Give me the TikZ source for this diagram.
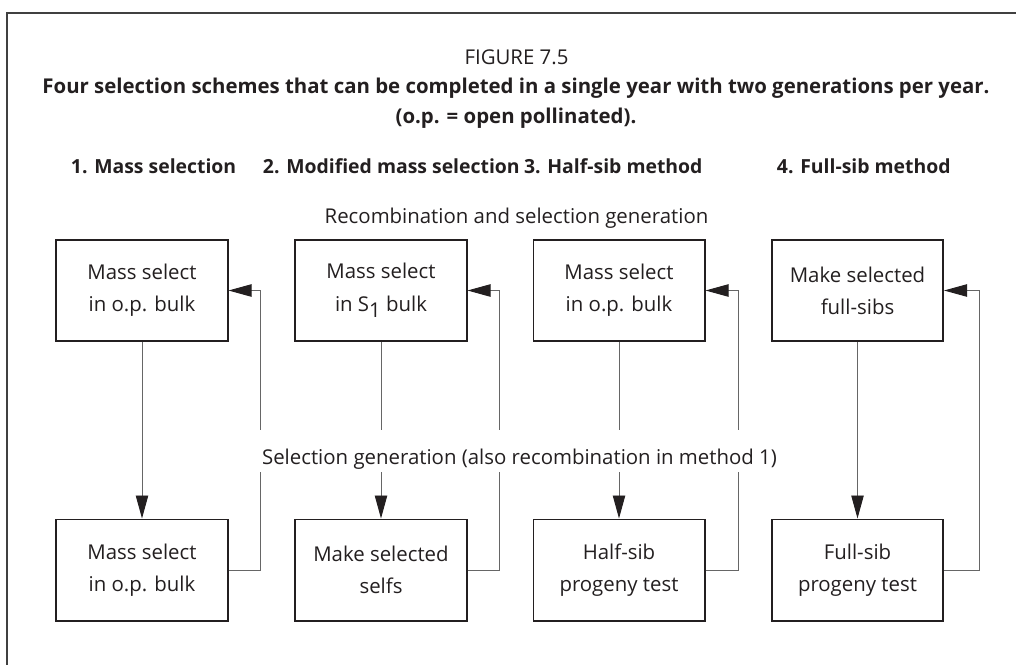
\documentclass[tikz,border=0pt]{standalone}
\usepackage{fontspec}
\setmainfont{Open Sans}
\usetikzlibrary{arrows.meta}
\definecolor{ink}{HTML}{231F20}
\tikzset{
  stage/.style={draw=ink, line width=1.4pt, minimum width=4.275cm, minimum height=2.525cm,
    align=center, text=ink, font=\fontsize{14.5}{22.8}\selectfont},
  flow/.style={draw=black!60, line width=0.7pt, -{Triangle[length=5.75mm,width=3.1mm,color=ink]}},
  heading/.style={anchor=base, text=ink, font=\bfseries\fontsize{14.5}{17}\selectfont},
  remark/.style={anchor=base, text=ink, font=\fontsize{14.5}{17}\selectfont}
}
\begin{document}
\begin{tikzpicture}[x=0.025cm, y=-0.025cm]
  \useasboundingbox (0,0) rectangle (1016,664);
  \draw[black!75, line width=0.9pt] (7,700) -- (7,13) -- (1030,13);

  \node[remark] (fig) at (516.5,64) {FIGURE 7.5};
  \node[heading] (title) at (516,93) {Four selection schemes that can be completed in a single year with two generations per year.};
  \node[heading] (note) at (516,123) {(o.p. = open pollinated).};

  \node[heading, anchor=base west, font=\bfseries\fontsize{13.8}{17}\selectfont] (h1) at (66,173) {1. Mass selection};
  \node[heading, anchor=base west, font=\bfseries\fontsize{13.8}{17}\selectfont] (h2) at (258,173) {2. Modified mass selection};
  \node[heading, anchor=base west, font=\bfseries\fontsize{13.8}{17}\selectfont] (h3) at ([xshift=-4pt]h2.base east) {3. Half-sib method};
  \node[heading, anchor=base west, font=\bfseries\fontsize{13.8}{17}\selectfont] (h4) at (772,173) {4. Full-sib method};

  \node[remark] (recomb) at (516.5,223) {Recombination and selection generation};

  \node[stage] (t1) at (142,290.5) {Mass select\\in o.p. bulk};
  \node[stage] (t2) at (381,290.5) {Mass select\\in S\raisebox{-0.6ex}{1} bulk};
  \node[stage] (t3) at (619,290.5) {Mass select\\in o.p. bulk};
  \node[stage] (t4) at (857.5,290.5) {Make selected\\full-sibs};
  \node[stage] (b1) at (142,570) {Mass select\\in o.p. bulk};
  \node[stage] (b2) at (381,570) {Make selected\\selfs};
  \node[stage] (b3) at (619,570) {Half-sib\\progeny test};
  \node[stage] (b4) at (857.5,570) {Full-sib\\progeny test};

  \draw[flow] (t1) -- (b1);
  \draw[flow] (t2) -- (b2);
  \draw[flow] (t3) -- (b3);
  \draw[flow] (t4) -- (b4);
  \draw[flow] (b1.east) -- ++(32,0) |- (t1.east);
  \draw[flow] (b2.east) -- ++(32,0) |- (t2.east);
  \draw[flow] (b3.east) -- ++(33,0) |- (t3.east);
  \draw[flow] (b4.east) -- ++(35,0) |- (t4.east);

  \node[remark, fill=white, inner xsep=3pt, inner ysep=0pt, text height=0.85cm, text depth=0.2cm]
    (selgen) at (519.5,464) {Selection generation (also recombination in method 1)};
\end{tikzpicture}
\end{document}
